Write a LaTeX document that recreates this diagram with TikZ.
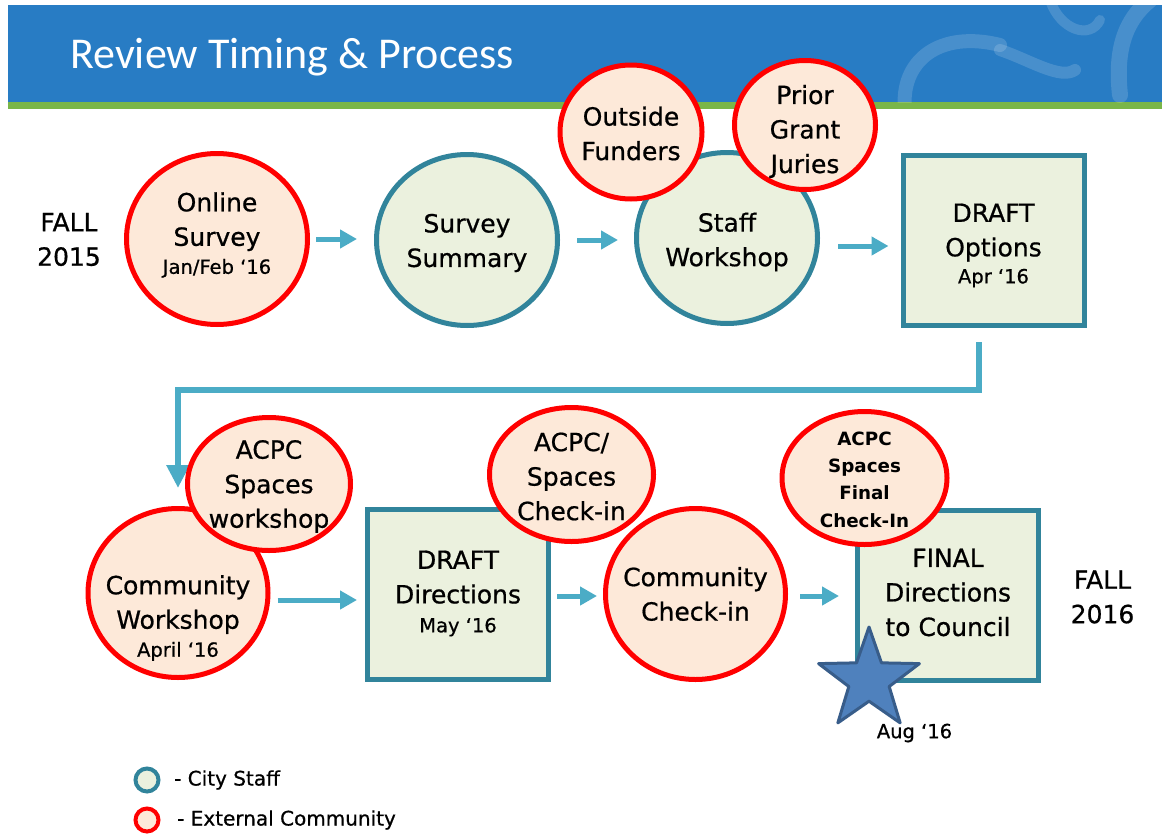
\documentclass[tikz,border=0pt]{standalone}
\usepackage{fontspec}
\setmainfont{DejaVu Sans}[UprightFeatures={FakeBold=0.7}]
\newfontfamily\titlefont{Carlito}
\usetikzlibrary{shapes.geometric,arrows.meta}
\definecolor{hdrblue}{HTML}{287CC4}
\definecolor{hdrgreen}{HTML}{7AB648}
\definecolor{tealb}{HTML}{31849B}
\definecolor{palegreen}{HTML}{EBF1DE}
\definecolor{peach}{HTML}{FDE9D9}
\definecolor{flowc}{HTML}{4BACC6}
\definecolor{starfill}{HTML}{4F81BD}
\definecolor{starline}{HTML}{385D8A}
\newcommand\bodyfont{\fontsize{25}{34.5}\selectfont}
\newcommand\datefont{\fontsize{19.5}{24}\selectfont}
\begin{document}
\begin{tikzpicture}[x=1pt,y=-1pt,
  staffc/.style={ellipse, draw=tealb, fill=palegreen, line width=5pt, inner sep=0pt},
  extc/.style={ellipse, draw=red, fill=peach, line width=5pt, inner sep=0pt},
  stepbox/.style={rectangle, draw=tealb, fill=palegreen, line width=5pt, inner sep=0pt, minimum width=181pt, minimum height=170pt},
  txt/.style={align=center, font=\bodyfont, text=black, inner sep=0pt},
  flow/.style={draw=flowc, line width=5pt, -{Triangle[length=17pt,width=18pt]}},
  bigflow/.style={draw=flowc, line width=6pt, -{Triangle[length=23pt,width=22pt]}},
  deco/.style={white, opacity=0.15, line cap=round},
  legc/.style={circle, line width=4pt, minimum size=23pt, inner sep=0pt},
  legt/.style={anchor=west, font=\fontsize{20}{24}\selectfont, text=black, inner sep=0pt}
]
\useasboundingbox (0,0) rectangle (1162,838);
\fill[white] (0,0) rectangle (1162,838);
% header
\fill[hdrblue] (8,5) rectangle (1162,102);
\fill[hdrgreen] (8,102) rectangle (1162,109);
\begin{scope}
  \clip (8,5) rectangle (1162,102);
  \draw[deco, line width=14pt] (905,110) .. controls (900,60) and (940,30) .. (1000,45);
  \draw[deco, line width=12pt] (1000,50) .. controls (1030,60) and (1060,80) .. (1075,70);
  \draw[deco, line width=16pt] (1120,95) .. controls (1115,50) and (1125,20) .. (1150,0);
  \draw[deco, line width=10pt] (1050,0) .. controls (1060,30) and (1090,40) .. (1100,20);
\end{scope}
\node[anchor=base west, font=\titlefont\fontsize{44}{50}\selectfont, text=white, inner sep=0pt] (title) at (70,68) {Review Timing \& Process};

% top row
\node[extc, minimum width=181pt, minimum height=171pt] (os) at (217,239) {};
\node[txt] (ost) at (217,235) {Online\\Survey\\[-6.5pt]{\datefont Jan/Feb ‘16}};
\node[staffc, minimum width=181pt, minimum height=171pt] (ss) at (467,240) {};
\node[txt] (sst) at (467,243) {Survey\\Summary};
\node[staffc, minimum width=181pt, minimum height=171pt] (sw) at (727,238) {};
\node[txt] (swt) at (727,242) {Staff\\Workshop};
\node[extc, minimum width=142pt, minimum height=134pt] (of) at (631,132) {};
\node[txt] (oft) at (631,133.5) {Outside\\Funders};
\node[extc, minimum width=141pt, minimum height=129pt] (pg) at (805,125) {};
\node[txt] (pgt) at (805,131.5) {Prior\\Grant\\Juries};
\node[stepbox] (do) at (993.5,240.5) {};
\node[txt] (dot) at (993.5,245.5) {DRAFT\\Options\\[-7.5pt]{\datefont Apr ‘16}};
\node[txt] (f15) at (69,239.5) {FALL\\2015};

\draw[flow] ([xshift=6pt]os.east) -- ([xshift=-17pt,yshift=1pt]ss.west);
\draw[flow] ([xshift=17pt]ss.east) -- ([xshift=-16pt,yshift=-2pt]sw.west);
\draw[flow] ([xshift=18pt,yshift=-8pt]sw.east) -- ([xshift=-12pt,yshift=-5.5pt]do.west);

% second row
\node[extc, minimum width=180pt, minimum height=169pt] (cw) at (178,593) {};
\node[txt] (cwt) at (178,618) {Community\\Workshop\\[-6.5pt]{\datefont April ‘16}};
\draw[bigflow] ([xshift=-14.5pt,yshift=-14pt]do.south) -- ++(0,48) -| ([yshift=18pt]cw.north);
\node[extc, minimum width=163pt, minimum height=133pt] (aw) at (269,484) {};
\node[txt] (awt) at (269,486.5) {ACPC\\Spaces\\workshop};
\node[stepbox] (dd) at (458,594.5) {};
\node[txt] (ddt) at (458,593.5) {DRAFT\\Directions\\[-5.5pt]{\datefont May ‘16}};
\node[extc, minimum width=164pt, minimum height=134pt] (ac) at (571.5,474.5) {};
\node[txt] (act) at (571.5,476.5) {ACPC/\\Spaces\\Check-in};
\node[extc, minimum width=180pt, minimum height=171pt] (cc) at (695.5,594) {};
\node[txt] (cct) at (695.5,594) {Community\\Check-in};
\node[stepbox] (fd) at (948,595) {};
\node[txt] (fdt) at (948,592.5) {FINAL\\Directions\\to Council};
\node[extc, minimum width=165pt, minimum height=133pt] (af) at (864.5,478) {};
\node[txt, font=\bfseries\fontsize{18.3}{27.3}\selectfont] (aft) at (864.5,479.5) {ACPC\\Spaces\\Final\\Check-In};
\node[star, star points=5, star point ratio=2.5, minimum size=106pt, inner sep=0pt, draw=starline, fill=starfill, line width=3pt, line join=round] (st) at (869,680) {};
\node[txt, font=\datefont] (aug) at (914.5,733) {Aug ‘16};
\node[txt] (f16) at (1102.5,597) {FALL\\2016};

\draw[flow] ([xshift=7pt,yshift=-7pt]cw.east) -- ([xshift=-8pt,yshift=-5.5pt]dd.west);
\draw[flow] ([xshift=6pt,yshift=-1.5pt]dd.east) -- ([xshift=-6pt,yshift=-2pt]cc.west);
\draw[flow] ([xshift=12pt,yshift=-2pt]cc.east) -- ([xshift=-16pt,yshift=-1pt]fd.west);

% legend
\node[legc, draw=tealb, fill=palegreen] (lg1) at (147,780) {};
\node[legc, draw=red, fill=peach] (lg2) at (147,820) {};
\node[legt] (lt1) at (174,780) {- City Staff};
\node[legt] (lt2) at (177,820) {- External Community};
\end{tikzpicture}
\end{document}
